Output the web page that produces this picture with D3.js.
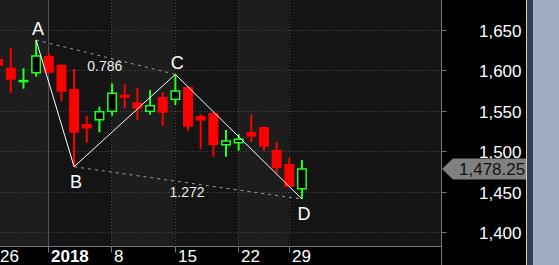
<!DOCTYPE html>
<html>
<head>
  <meta charset="utf-8">
  <style>
    body { margin: 0; background: #000; }
    svg { display: block; font-family: "Liberation Sans", Arial, sans-serif; }
    .grid { stroke: #4a4a4a; stroke-width: 1; stroke-dasharray: 1,2; }
    .wick { stroke-width: 2; }
  </style>
</head>
<body>
  <svg width="559" height="265"></svg>
  <script src="https://cdn.jsdelivr.net/npm/d3@7"></script>
  <script>

  // daily candles, Dec 26 2017 .. Jan 30 2018
  var dates = ["Dec 26","Dec 27","Dec 28","Dec 29","Jan 1","Jan 2","Jan 3","Jan 4","Jan 5",
               "Jan 8","Jan 9","Jan 10","Jan 11","Jan 12","Jan 15","Jan 16","Jan 17","Jan 18","Jan 19",
               "Jan 22","Jan 23","Jan 24","Jan 25","Jan 29","Jan 30"];
  var open  = [1614, 1603.4, 1587, 1597.2, 1617.9, 1607.1, 1577.1, 1533.8, 1539.1,
               1549.5, 1570.0, 1560.6, 1549.5, 1567.2, 1564.3, 1579.5, 1543.7, 1547.4, 1508.2,
               1510.7, 1523.9, 1530.1, 1501.7, 1484.4, 1453.8];
  var high  = [1618, 1628.1, 1602.7, 1637.6, 1621.2, 1607.5, 1601.8, 1544.1, 1555.2,
               1584.1, 1582.9, 1578.3, 1575.8, 1573.4, 1595.2, 1580.0, 1546.2, 1548.0, 1526.4,
               1521.5, 1545.3, 1530.5, 1511.6, 1492.2, 1489.3];
  var low   = [1600, 1572.5, 1577.5, 1592.3, 1596.5, 1561.9, 1481.0, 1510.7, 1523.6,
               1544.0, 1553.2, 1538.8, 1545.4, 1531.8, 1557.3, 1525.5, 1502.9, 1493.4, 1493.4,
               1500.8, 1511.6, 1500.8, 1472.9, 1456.0, 1441.1];
  var close = [1606, 1588.6, 1587.5, 1617.9, 1597.2, 1573.8, 1523.1, 1528.3, 1549.0,
               1571.8, 1566.3, 1552.7, 1556.4, 1547.8, 1574.6, 1530.5, 1538.0, 1507.9, 1512.8,
               1514.9, 1518.2, 1505.8, 1479.4, 1456.3, 1478.25];

  var priceTicks = [1400, 1450, 1500, 1550, 1600, 1650];
  var dateTicks = [0, 4, 9, 14, 19, 23];
  var dateTickLabels = ["26", "2018", "8", "15", "22", "29"];
  var lastPrice = 1478.25;

  // harmonic pattern: point name, candle index, which end of the candle
  var patternNames = ["A", "B", "C", "D"];
  var patternIdx = [3, 6, 14, 24];
  var patternSide = ["high", "low", "high", "low"];
  var ratioLabels = ["0.786", "1.272"];

  var svg = d3.select("svg"),
      plotW = 441, plotH = 246;

  var x = d3.scaleLinear().domain([0, 35]).range([-1.86, 441.2]),
      y = d3.scaleLinear().domain([1400, 1650]).range([232.3, 30]);

  var green = "#22ff22", red = "#ff0000";

  // backgrounds
  svg.append("rect").attr("width", 559).attr("height", 265).attr("fill", "#000");

  var bandEdges = dateTicks.map(function(i) { return x(i) - 0.7; });
  bandEdges.unshift(-10);
  bandEdges.push(plotW);
  for (var i = 0; i < bandEdges.length - 1; i++) {
    svg.append("rect")
      .attr("x", bandEdges[i]).attr("y", 0)
      .attr("width", bandEdges[i + 1] - bandEdges[i]).attr("height", plotH)
      .attr("fill", i % 2 === 0 ? "#141414" : "#1d1d1d");
  }

  svg.append("defs").append("clipPath").attr("id", "plot")
    .append("rect").attr("width", plotW).attr("height", plotH);
  svg.select("defs").append("clipPath").attr("id", "axisclip")
    .append("rect").attr("x", plotW).attr("width", 526 - plotW).attr("height", 265);

  var g = svg.append("g").attr("clip-path", "url(#plot)");

  // grid
  g.selectAll(".hgrid").data(priceTicks).enter().append("line")
    .attr("class", "grid")
    .attr("x1", 0).attr("x2", plotW)
    .attr("y1", function(d) { return Math.round(y(d)) + 0.5; })
    .attr("y2", function(d) { return Math.round(y(d)) + 0.5; });

  g.selectAll(".vgrid").data(dateTicks).enter().append("line")
    .attr("class", function(d, i) { return i === 1 ? "" : "grid"; })
    .attr("stroke", function(d, i) { return i === 1 ? "#555" : null; })
    .attr("x1", function(d) { return Math.round(x(d) - 0.7) + 0.5; })
    .attr("x2", function(d) { return Math.round(x(d) - 0.7) + 0.5; })
    .attr("y1", 0).attr("y2", plotH);

  // candles
  var candles = g.selectAll(".candle").data(dates).enter().append("g").attr("class", "candle");

  candles.append("line")
    .attr("class", "wick")
    .attr("x1", function(d, i) { return x(i); })
    .attr("x2", function(d, i) { return x(i); })
    .attr("y1", function(d, i) { return y(high[i]); })
    .attr("y2", function(d, i) { return y(low[i]); })
    .attr("stroke", function(d, i) { return close[i] >= open[i] ? green : red; });

  candles.append("rect")
    .attr("x", function(d, i) { return close[i] >= open[i] ? x(i) - 4.25 : x(i) - 5; })
    .attr("width", function(d, i) { return close[i] >= open[i] ? 8.5 : 10; })
    .attr("y", function(d, i) { return y(Math.max(open[i], close[i])); })
    .attr("height", function(d, i) { return Math.max(1, Math.abs(y(open[i]) - y(close[i]))); })
    .attr("fill", function(d, i) { return close[i] >= open[i] ? "#000" : red; })
    .attr("stroke", function(d, i) { return close[i] >= open[i] ? green : "none"; })
    .attr("stroke-width", 1.5);

  // pattern
  var pts = patternIdx.map(function(idx, k) {
    return [x(idx), y(patternSide[k] === "high" ? high[idx] : low[idx])];
  });

  g.append("path")
    .attr("d", d3.line()(pts))
    .attr("fill", "none").attr("stroke", "#fff").attr("stroke-width", 1);

  [[pts[0], pts[2]], [pts[1], pts[3]]].forEach(function(seg, k) {
    g.append("path")
      .attr("d", d3.line()(seg))
      .attr("fill", "none").attr("stroke", "#9a9a9a")
      .attr("stroke-width", 1).attr("stroke-dasharray", "3,4");
    g.append("text")
      .attr("x", (seg[0][0] + seg[1][0]) / 2 - 1)
      .attr("y", (seg[0][1] + seg[1][1]) / 2 + 14)
      .attr("text-anchor", "middle")
      .attr("fill", "#ececec")
      .style("font-size", "14px")
      .text(ratioLabels[k]);
  });

  g.selectAll(".plabel").data(patternNames).enter().append("text")
    .attr("x", function(d, k) { return pts[k][0] + 2; })
    .attr("y", function(d, k) { return patternSide[k] === "high" ? pts[k][1] - 5 : pts[k][1] + 21; })
    .attr("text-anchor", "middle")
    .attr("fill", "#fff")
    .style("font-size", "18px")
    .text(function(d) { return d; });

  // bottom axis
  svg.append("rect").attr("x", 0).attr("y", plotH).attr("width", plotW).attr("height", 265 - plotH).attr("fill", "#000");
  var xAxis = svg.append("g")
    .attr("transform", "translate(0," + (plotH + 0.5) + ")")
    .call(d3.axisBottom(x).tickValues(dateTicks).tickSize(6)
      .tickFormat(function(d, i) { return dateTickLabels[i]; }));
  xAxis.select(".domain").attr("stroke", "#777").attr("d", "M0,0H" + plotW);
  xAxis.selectAll(".tick").attr("transform", function(d) {
    return "translate(" + (Math.round(x(d) - 0.7) + 0.5) + ",0)";
  });
  xAxis.selectAll(".tick line").attr("stroke", "#777");
  xAxis.selectAll(".tick text")
    .attr("fill", "#fff").attr("text-anchor", "start")
    .attr("x", 2.5).attr("y", 15).attr("dy", null)
    .style("font-size", "17px")
    .style("font-weight", function(d, i) { return i === 1 ? "bold" : null; })
    .style("font-family", "'Liberation Sans', Arial, sans-serif");

  // right axis
  svg.append("rect").attr("x", plotW).attr("y", 0).attr("width", 526 - plotW).attr("height", 265).attr("fill", "#000");
  var yAxis = svg.append("g")
    .attr("transform", "translate(" + (plotW + 0.5) + ",0)")
    .call(d3.axisRight(y).tickValues(priceTicks).tickSize(5).tickFormat(d3.format(",")));
  yAxis.select(".domain").attr("stroke", "#777").attr("d", "M0,0V265");
  yAxis.selectAll(".tick").attr("transform", function(d) {
    return "translate(0," + (Math.round(y(d)) + 0.5) + ")";
  });
  yAxis.selectAll(".tick line").attr("stroke", "#777");
  yAxis.selectAll(".tick text")
    .attr("fill", "#fff").attr("text-anchor", "end")
    .attr("x", 80).attr("dy", "0.38em")
    .style("font-size", "17px")
    .style("font-family", "'Liberation Sans', Arial, sans-serif");

  // last price marker
  var yp = y(lastPrice);
  var marker = svg.append("g").attr("clip-path", "url(#axisclip)");
  marker.append("path")
    .attr("d", "M" + (plotW + 1) + "," + yp + "L" + (plotW + 12) + "," + (yp - 10.5) +
               "H526V" + (yp + 10.5) + "H" + (plotW + 12) + "Z")
    .attr("fill", "#808080");
  marker.append("text")
    .attr("x", plotW + 18).attr("y", yp).attr("dy", "0.36em")
    .attr("fill", "#111")
    .style("font-size", "17px")
    .text(d3.format(",.2f")(lastPrice));

  // right side strips
  svg.append("rect").attr("x", 526).attr("width", 1).attr("height", 265).attr("fill", "#e3cf8a");
  svg.append("rect").attr("x", 527).attr("width", 6).attr("height", 265).attr("fill", "#2e3d5a");
  svg.append("rect").attr("x", 533).attr("width", 26).attr("height", 265).attr("fill", "#9eacc4");

  </script>
</body>
</html>
